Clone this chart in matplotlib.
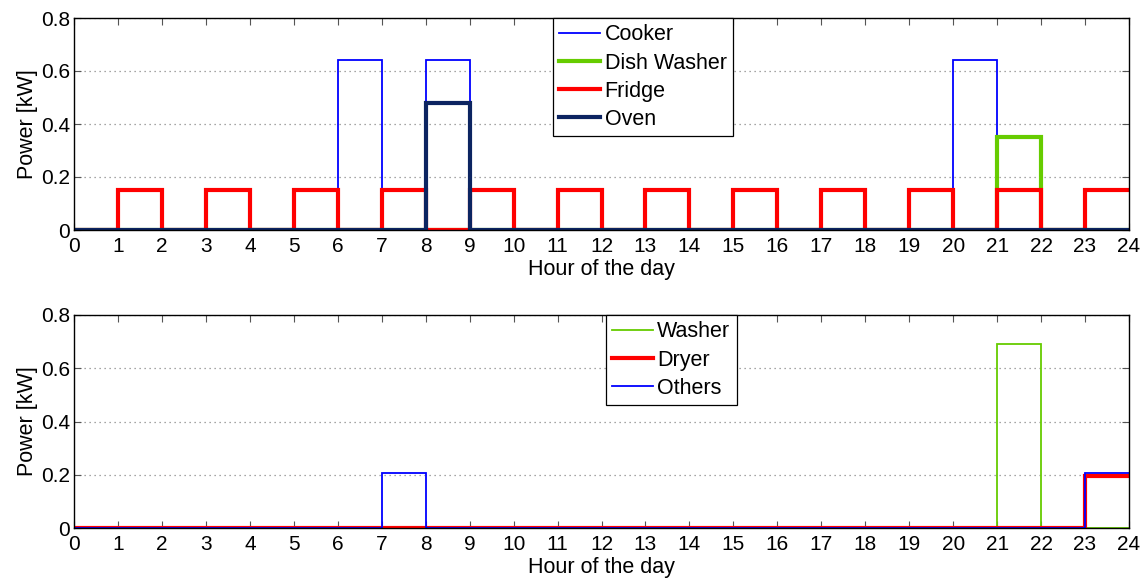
import numpy as np
import matplotlib.pyplot as plt

plt.rcParams['font.family'] = ['Liberation Sans', 'DejaVu Sans']

hours = np.arange(0, 25)

# hourly power [kW], one value per hour slot 0-1 ... 23-24
cooker = [0, 0, 0, 0, 0, 0, 0.64, 0, 0.64, 0, 0, 0,
          0, 0, 0, 0, 0, 0, 0, 0, 0.64, 0, 0, 0]
dish_washer = [0, 0, 0, 0, 0, 0, 0, 0, 0, 0, 0, 0,
               0, 0, 0, 0, 0, 0, 0, 0, 0, 0.35, 0, 0]
fridge = [0, 0.15, 0, 0.15, 0, 0.15, 0, 0.15, 0, 0.15, 0, 0.15,
          0, 0.15, 0, 0.15, 0, 0.15, 0, 0.15, 0, 0.15, 0, 0.15]
oven = [0, 0, 0, 0, 0, 0, 0, 0, 0.48, 0, 0, 0,
        0, 0, 0, 0, 0, 0, 0, 0, 0, 0, 0, 0]

washer = [0, 0, 0, 0, 0, 0, 0, 0, 0, 0, 0, 0,
          0, 0, 0, 0, 0, 0, 0, 0, 0, 0.69, 0, 0]
dryer = [0, 0, 0, 0, 0, 0, 0, 0, 0, 0, 0, 0,
         0, 0, 0, 0, 0, 0, 0, 0, 0, 0, 0, 0.195]
others = [0, 0, 0, 0, 0, 0, 0, 0.205, 0, 0, 0, 0,
          0, 0, 0, 0, 0, 0, 0, 0, 0, 0, 0, 0.205]

blue = '#0000ff'
green = '#66cc00'
red = '#ff0000'
navy = '#0c2461'
fs = 15.5

fig = plt.figure(figsize=(11.48, 5.83), dpi=100)
ax1 = fig.add_axes([74 / 1148, 1 - 230 / 583, 1055 / 1148, 212 / 583])
ax2 = fig.add_axes([74 / 1148, 1 - 528 / 583, 1055 / 1148, 213 / 583])


def steps(ax, vals, color, lw, label):
    ax.stairs(vals, hours, color=color, lw=lw, label=label, baseline=None)


steps(ax1, cooker, blue, 1.3, 'Cooker')
steps(ax1, dish_washer, green, 3, 'Dish Washer')
steps(ax1, fridge, red, 3, 'Fridge')
steps(ax1, oven, navy, 3, 'Oven')

steps(ax2, washer, green, 1.3, 'Washer')
steps(ax2, dryer, red, 3, 'Dryer')
steps(ax2, others, blue, 1.3, 'Others')

for ax in (ax1, ax2):
    ax.set_xlim(0, 24)
    ax.set_ylim(0, 0.8)
    ax.set_xticks(range(0, 25))
    ax.set_yticks([0, 0.2, 0.4, 0.6, 0.8])
    ax.set_yticklabels(['0', '0.2', '0.4', '0.6', '0.8'])
    ax.tick_params(direction='in', top=True, right=True, labelsize=15,
                   length=5, color='#555555', pad=3)
    ax.tick_params(axis='x', pad=5)
    ax.yaxis.grid(True, linestyle=(0, (1, 3)), color='#888888', lw=0.9)
    ax.set_axisbelow(True)
    ax.set_xlabel('Hour of the day', fontsize=fs, labelpad=2)
    ax.set_ylabel('Power [kW]', fontsize=fs, labelpad=2)
    for s in ax.spines.values():
        s.set_linewidth(1)

leg1 = ax1.legend(loc='upper left', bbox_to_anchor=(0.454, 1.0), fontsize=fs,
                  fancybox=False, edgecolor='black', framealpha=1,
                  borderaxespad=0, handlelength=1.9, handletextpad=0.2,
                  labelspacing=0.33, borderpad=0.3)
leg1.get_frame().set_linewidth(0.9)
leg2 = ax2.legend(loc='upper left', bbox_to_anchor=(0.504, 1.0), fontsize=fs,
                  fancybox=False, edgecolor='black', framealpha=1,
                  borderaxespad=0, handlelength=1.9, handletextpad=0.2,
                  labelspacing=0.33, borderpad=0.3)
leg2.get_frame().set_linewidth(0.9)

fig.savefig('out.png', dpi=100)
